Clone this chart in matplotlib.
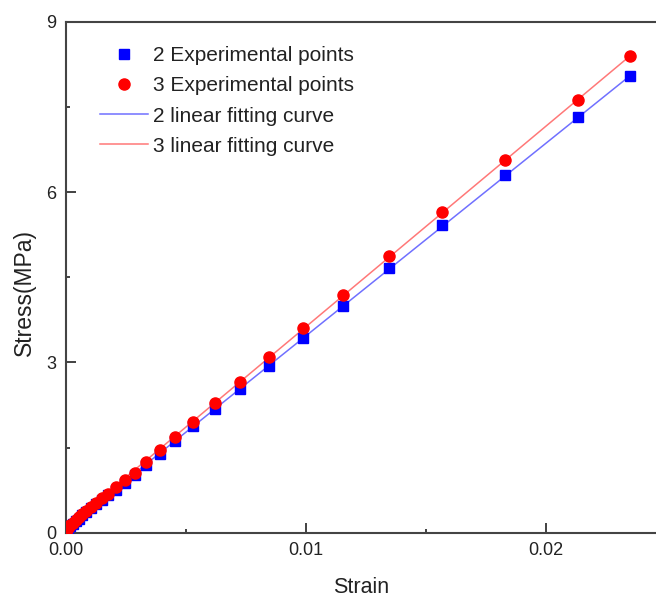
import matplotlib
matplotlib.use("Agg")
import matplotlib.pyplot as plt
from matplotlib.ticker import MultipleLocator, FormatStrFormatter

plt.rcParams["font.family"] = ["Liberation Sans", "DejaVu Sans"]

# ── data ─────────────────────────────────────────────────────────
strain = [0.00002, 0.00011, 0.0002, 0.0003, 0.00042, 0.00055, 0.0007,
          0.00087, 0.00106, 0.00128, 0.00152, 0.00178, 0.00212, 0.00247,
          0.00289, 0.00337, 0.00393, 0.00455, 0.00532, 0.00622, 0.00726,
          0.00848, 0.00990, 0.01154, 0.01347, 0.01569, 0.01830, 0.02136,
          0.02351]
stress_2 = [0.02, 0.07, 0.11, 0.15, 0.20, 0.25, 0.31, 0.37, 0.43, 0.50,
            0.58, 0.66, 0.76, 0.87, 1.01, 1.19, 1.38, 1.61, 1.88, 2.18,
            2.54, 2.94, 3.44, 4.00, 4.66, 5.42, 6.30, 7.33, 8.05]
stress_3 = [0.02, 0.09, 0.13, 0.17, 0.22, 0.27, 0.33, 0.39, 0.46, 0.53,
            0.61, 0.69, 0.81, 0.93, 1.06, 1.25, 1.46, 1.68, 1.96, 2.29,
            2.65, 3.09, 3.60, 4.19, 4.88, 5.65, 6.57, 7.63, 8.40]

# linear fitting curves (end points)
fit_x = [0.0, 0.02351]
fit_2 = [0.07, 8.05]
fit_3 = [0.09, 8.40]

xticks = [0.0, 0.01, 0.02]
xtick_labels = ["0.00", "0.01", "0.02"]
yticks = [0, 3, 6, 9]

# ── figure ────────────────────────────────────────────────────────
fig = plt.figure(figsize=(6.56, 6.01), dpi=100)
ax = fig.add_axes([0.100, 0.1136, 0.900, 0.8498])

ax.plot(strain, stress_2, "s", color="#0000ff", markersize=7,
        label="2 Experimental points", zorder=3)
ax.plot(strain, stress_3, "o", color="#ff0000", markersize=8,
        label="3 Experimental points", zorder=4)
ax.plot(fit_x, fit_2, "-", color="#7070ff", linewidth=1.1,
        label="2 linear fitting curve", zorder=2)
ax.plot(fit_x, fit_3, "-", color="#ff7878", linewidth=1.1,
        label="3 linear fitting curve", zorder=2)

ax.set_xlim(0, 0.0246)
ax.set_ylim(0, 9)
ax.set_xticks(xticks)
ax.set_xticklabels(xtick_labels)
ax.set_yticks(yticks)
ax.xaxis.set_minor_locator(MultipleLocator(0.005))
ax.yaxis.set_minor_locator(MultipleLocator(1.5))
ax.yaxis.set_major_formatter(FormatStrFormatter("%d"))

ax.tick_params(which="both", direction="in", labelsize=13,
               colors="#333333", labelcolor="#222222", width=1.3)
ax.tick_params(which="major", length=7, pad=7)
ax.tick_params(which="minor", length=3)

for side in ("left", "bottom", "top"):
    ax.spines[side].set_linewidth(1.5)
    ax.spines[side].set_color("#444444")
ax.spines["right"].set_visible(False)

ax.set_xlabel("Strain", fontsize=15.5, color="#222222")
ax.set_ylabel("Stress(MPa)", fontsize=16.5, color="#222222")
ax.xaxis.set_label_coords(0.5, -0.108)
ax.yaxis.set_label_coords(-0.069, 0.47)
ax.xaxis.label.set_va("center")
ax.yaxis.label.set_va("center")

leg = ax.legend(loc="upper left", bbox_to_anchor=(100 / 656, 1 - 46 / 601),
                bbox_transform=fig.transFigure, frameon=False, fontsize=15,
                numpoints=1, handlelength=2.3, handletextpad=0.25,
                labelspacing=0.54, borderpad=0, borderaxespad=0)
for t in leg.get_texts():
    t.set_color("#222222")

fig.savefig("out.png", dpi=100)
